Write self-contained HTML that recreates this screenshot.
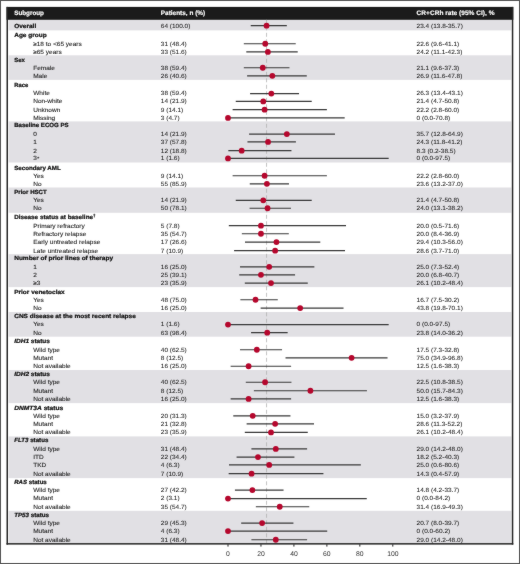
<!DOCTYPE html>
<html><head><meta charset="utf-8"><title>Forest plot</title><style>
html,body{margin:0;padding:0;background:#fff;overflow:hidden;width:520px;height:564px;}
svg{display:block;will-change:transform;}
text{font-family:"Liberation Sans",sans-serif;font-size:60.00px;text-rendering:geometricPrecision;}
.h{fill:#fff;font-weight:bold;stroke:#fff;stroke-width:1.50px;font-size:65px;}
.g{fill:#111111;font-weight:bold;stroke:#111111;stroke-width:2.20px;}
.s{fill:#1c1c1c;stroke:#1c1c1c;stroke-width:0.90px;}
.d{fill:#1c1c1c;stroke:#1c1c1c;stroke-width:0.50px;}
.ax{fill:#333;font-size:6.80px;}
</style></head>
<body><svg width="520" height="564" viewBox="0 0 520 564">
<defs><filter id="bl" x="0" y="0" width="520" height="564" filterUnits="userSpaceOnUse" color-interpolation-filters="sRGB"><feConvolveMatrix order="3" kernelMatrix="1 2 1 2 44 2 1 2 1" divisor="56" edgeMode="duplicate"/></filter></defs>
<g filter="url(#bl)">
<rect x="0" y="0" width="520" height="564" fill="#fff"/>
<rect x="8.60" y="19.80" width="502.70" height="10.60" fill="#e1e0e4"/>
<rect x="8.60" y="55.30" width="502.70" height="24.60" fill="#e1e0e4"/>
<rect x="8.60" y="121.40" width="502.70" height="41.10" fill="#e1e0e4"/>
<rect x="8.60" y="187.50" width="502.70" height="25.30" fill="#e1e0e4"/>
<rect x="8.60" y="254.10" width="502.70" height="33.00" fill="#e1e0e4"/>
<rect x="8.60" y="312.00" width="502.70" height="24.70" fill="#e1e0e4"/>
<rect x="8.60" y="370.00" width="502.70" height="33.10" fill="#e1e0e4"/>
<rect x="8.60" y="436.40" width="502.70" height="41.70" fill="#e1e0e4"/>
<rect x="8.60" y="510.80" width="502.70" height="32.70" fill="#e1e0e4"/>
<rect x="6.50" y="6.9" width="506.80" height="12.9" fill="#1b1b1b"/>
<line x1="266.56" y1="19.8" x2="266.56" y2="543.2" stroke="#ababab" stroke-width="0.70" stroke-dasharray="4 2.5"/>
<line x1="250.74" y1="25.65" x2="286.83" y2="25.65" stroke="#383838" stroke-width="1.20"/>
<line x1="243.82" y1="43.75" x2="295.73" y2="43.75" stroke="#383838" stroke-width="1.20"/>
<line x1="246.29" y1="51.95" x2="297.71" y2="51.95" stroke="#383838" stroke-width="1.20"/>
<line x1="243.82" y1="67.75" x2="289.47" y2="67.75" stroke="#383838" stroke-width="1.20"/>
<line x1="247.12" y1="75.85" x2="306.77" y2="75.85" stroke="#383838" stroke-width="1.20"/>
<line x1="250.08" y1="93.55" x2="299.03" y2="93.55" stroke="#383838" stroke-width="1.20"/>
<line x1="235.75" y1="101.45" x2="311.72" y2="101.45" stroke="#383838" stroke-width="1.20"/>
<line x1="232.61" y1="109.65" x2="326.88" y2="109.65" stroke="#383838" stroke-width="1.20"/>
<line x1="228.00" y1="117.95" x2="344.68" y2="117.95" stroke="#383838" stroke-width="1.20"/>
<line x1="249.09" y1="134.05" x2="334.96" y2="134.05" stroke="#383838" stroke-width="1.20"/>
<line x1="247.45" y1="141.95" x2="295.90" y2="141.95" stroke="#383838" stroke-width="1.20"/>
<line x1="228.33" y1="150.65" x2="291.45" y2="150.65" stroke="#383838" stroke-width="1.20"/>
<line x1="228.00" y1="158.45" x2="388.68" y2="158.45" stroke="#383838" stroke-width="1.20"/>
<line x1="232.61" y1="175.75" x2="326.88" y2="175.75" stroke="#383838" stroke-width="1.20"/>
<line x1="249.75" y1="183.85" x2="288.98" y2="183.85" stroke="#383838" stroke-width="1.20"/>
<line x1="235.75" y1="200.35" x2="311.72" y2="200.35" stroke="#383838" stroke-width="1.20"/>
<line x1="249.59" y1="208.25" x2="290.95" y2="208.25" stroke="#383838" stroke-width="1.20"/>
<line x1="228.82" y1="225.65" x2="346.00" y2="225.65" stroke="#383838" stroke-width="1.20"/>
<line x1="241.84" y1="233.75" x2="288.81" y2="233.75" stroke="#383838" stroke-width="1.20"/>
<line x1="244.97" y1="242.05" x2="320.29" y2="242.05" stroke="#383838" stroke-width="1.20"/>
<line x1="234.10" y1="250.65" x2="345.01" y2="250.65" stroke="#383838" stroke-width="1.20"/>
<line x1="240.03" y1="266.80" x2="314.36" y2="266.80" stroke="#383838" stroke-width="1.20"/>
<line x1="239.21" y1="274.85" x2="295.07" y2="274.85" stroke="#383838" stroke-width="1.20"/>
<line x1="244.81" y1="283.05" x2="307.76" y2="283.05" stroke="#383838" stroke-width="1.20"/>
<line x1="240.36" y1="299.75" x2="277.77" y2="299.75" stroke="#383838" stroke-width="1.20"/>
<line x1="260.63" y1="308.05" x2="343.52" y2="308.05" stroke="#383838" stroke-width="1.20"/>
<line x1="228.00" y1="324.55" x2="388.68" y2="324.55" stroke="#383838" stroke-width="1.20"/>
<line x1="251.07" y1="332.65" x2="287.66" y2="332.65" stroke="#383838" stroke-width="1.20"/>
<line x1="240.03" y1="349.75" x2="282.05" y2="349.75" stroke="#383838" stroke-width="1.20"/>
<line x1="285.52" y1="357.85" x2="387.53" y2="357.85" stroke="#383838" stroke-width="1.20"/>
<line x1="230.64" y1="366.25" x2="291.12" y2="366.25" stroke="#383838" stroke-width="1.20"/>
<line x1="245.80" y1="382.25" x2="291.45" y2="382.25" stroke="#383838" stroke-width="1.20"/>
<line x1="253.87" y1="390.75" x2="366.93" y2="390.75" stroke="#383838" stroke-width="1.20"/>
<line x1="230.64" y1="398.95" x2="291.12" y2="398.95" stroke="#383838" stroke-width="1.20"/>
<line x1="233.27" y1="415.85" x2="290.46" y2="415.85" stroke="#383838" stroke-width="1.20"/>
<line x1="246.62" y1="423.85" x2="314.03" y2="423.85" stroke="#383838" stroke-width="1.20"/>
<line x1="244.81" y1="432.45" x2="307.76" y2="432.45" stroke="#383838" stroke-width="1.20"/>
<line x1="251.40" y1="448.95" x2="307.10" y2="448.95" stroke="#383838" stroke-width="1.20"/>
<line x1="236.57" y1="457.05" x2="294.41" y2="457.05" stroke="#383838" stroke-width="1.20"/>
<line x1="228.99" y1="464.95" x2="360.83" y2="464.95" stroke="#383838" stroke-width="1.20"/>
<line x1="228.66" y1="473.65" x2="323.42" y2="473.65" stroke="#383838" stroke-width="1.20"/>
<line x1="234.92" y1="490.05" x2="283.54" y2="490.05" stroke="#383838" stroke-width="1.20"/>
<line x1="228.00" y1="498.55" x2="366.76" y2="498.55" stroke="#383838" stroke-width="1.20"/>
<line x1="255.85" y1="506.75" x2="309.25" y2="506.75" stroke="#383838" stroke-width="1.20"/>
<line x1="241.18" y1="523.05" x2="293.43" y2="523.05" stroke="#383838" stroke-width="1.20"/>
<line x1="228.00" y1="531.05" x2="327.21" y2="531.05" stroke="#383838" stroke-width="1.20"/>
<line x1="251.40" y1="539.75" x2="307.10" y2="539.75" stroke="#383838" stroke-width="1.20"/>
<circle cx="266.56" cy="25.65" r="2.90" fill="#b5072d"/>
<circle cx="265.24" cy="43.75" r="2.90" fill="#b5072d"/>
<circle cx="267.88" cy="51.95" r="2.90" fill="#b5072d"/>
<circle cx="262.77" cy="67.75" r="2.90" fill="#b5072d"/>
<circle cx="272.33" cy="75.85" r="2.90" fill="#b5072d"/>
<circle cx="271.34" cy="93.55" r="2.90" fill="#b5072d"/>
<circle cx="263.27" cy="101.45" r="2.90" fill="#b5072d"/>
<circle cx="264.59" cy="109.65" r="2.90" fill="#b5072d"/>
<circle cx="228.00" cy="117.95" r="2.90" fill="#b5072d"/>
<circle cx="286.83" cy="134.05" r="2.90" fill="#b5072d"/>
<circle cx="268.05" cy="141.95" r="2.90" fill="#b5072d"/>
<circle cx="241.68" cy="150.65" r="2.90" fill="#b5072d"/>
<circle cx="228.00" cy="158.45" r="2.90" fill="#b5072d"/>
<circle cx="264.59" cy="175.75" r="2.90" fill="#b5072d"/>
<circle cx="266.89" cy="183.85" r="2.90" fill="#b5072d"/>
<circle cx="263.27" cy="200.35" r="2.90" fill="#b5072d"/>
<circle cx="267.55" cy="208.25" r="2.90" fill="#b5072d"/>
<circle cx="260.96" cy="225.65" r="2.90" fill="#b5072d"/>
<circle cx="260.96" cy="233.75" r="2.90" fill="#b5072d"/>
<circle cx="276.45" cy="242.05" r="2.90" fill="#b5072d"/>
<circle cx="275.13" cy="250.65" r="2.90" fill="#b5072d"/>
<circle cx="269.20" cy="266.80" r="2.90" fill="#b5072d"/>
<circle cx="260.96" cy="274.85" r="2.90" fill="#b5072d"/>
<circle cx="271.01" cy="283.05" r="2.90" fill="#b5072d"/>
<circle cx="255.52" cy="299.75" r="2.90" fill="#b5072d"/>
<circle cx="300.18" cy="308.05" r="2.90" fill="#b5072d"/>
<circle cx="228.00" cy="324.55" r="2.90" fill="#b5072d"/>
<circle cx="267.22" cy="332.65" r="2.90" fill="#b5072d"/>
<circle cx="256.84" cy="349.75" r="2.90" fill="#b5072d"/>
<circle cx="351.60" cy="357.85" r="2.90" fill="#b5072d"/>
<circle cx="248.60" cy="366.25" r="2.90" fill="#b5072d"/>
<circle cx="265.08" cy="382.25" r="2.90" fill="#b5072d"/>
<circle cx="310.40" cy="390.75" r="2.90" fill="#b5072d"/>
<circle cx="248.60" cy="398.95" r="2.90" fill="#b5072d"/>
<circle cx="252.72" cy="415.85" r="2.90" fill="#b5072d"/>
<circle cx="275.13" cy="423.85" r="2.90" fill="#b5072d"/>
<circle cx="271.01" cy="432.45" r="2.90" fill="#b5072d"/>
<circle cx="275.79" cy="448.95" r="2.90" fill="#b5072d"/>
<circle cx="257.99" cy="457.05" r="2.90" fill="#b5072d"/>
<circle cx="269.20" cy="464.95" r="2.90" fill="#b5072d"/>
<circle cx="251.57" cy="473.65" r="2.90" fill="#b5072d"/>
<circle cx="252.39" cy="490.05" r="2.90" fill="#b5072d"/>
<circle cx="228.00" cy="498.55" r="2.90" fill="#b5072d"/>
<circle cx="279.75" cy="506.75" r="2.90" fill="#b5072d"/>
<circle cx="262.11" cy="523.05" r="2.90" fill="#b5072d"/>
<circle cx="228.00" cy="531.05" r="2.90" fill="#b5072d"/>
<circle cx="275.79" cy="539.75" r="2.90" fill="#b5072d"/>
<rect x="6.50" y="6.9" width="1.50" height="537.70" fill="#262626"/>
<rect x="511.80" y="6.9" width="1.50" height="537.70" fill="#262626"/>
<rect x="6.50" y="543.10" width="506.80" height="1.50" fill="#262626"/>
<line x1="228.00" y1="544.30" x2="228.00" y2="546.6" stroke="#222" stroke-width="1.0"/>
<text x="228.00" y="556.2" text-anchor="middle" class="ax">0</text>
<line x1="260.96" y1="544.30" x2="260.96" y2="546.6" stroke="#222" stroke-width="1.0"/>
<text x="260.96" y="556.2" text-anchor="middle" class="ax">20</text>
<line x1="293.92" y1="544.30" x2="293.92" y2="546.6" stroke="#222" stroke-width="1.0"/>
<text x="293.92" y="556.2" text-anchor="middle" class="ax">40</text>
<line x1="326.88" y1="544.30" x2="326.88" y2="546.6" stroke="#222" stroke-width="1.0"/>
<text x="326.88" y="556.2" text-anchor="middle" class="ax">60</text>
<line x1="359.84" y1="544.30" x2="359.84" y2="546.6" stroke="#222" stroke-width="1.0"/>
<text x="359.84" y="556.2" text-anchor="middle" class="ax">80</text>
<line x1="392.80" y1="544.30" x2="392.80" y2="546.6" stroke="#222" stroke-width="1.0"/>
<text x="392.80" y="556.2" text-anchor="middle" class="ax">100</text>
<text transform="matrix(0.0970,0,0,0.1000,14.20,15.25)" class="h">Subgroup</text>
<text transform="matrix(0.0990,0,0,0.1000,160.80,15.25)" class="h">Patients, n (%)</text>
<text transform="matrix(0.1010,0,0,0.1000,416.60,15.25)" class="h">CR+CRh rate (95% CI), %</text>
<text transform="matrix(0.1082,0,0,0.1000,14.20,27.50)" class="g">Overall</text>
<text transform="matrix(0.1082,0,0,0.1000,160.80,27.50)" class="d">64 (100.0)</text>
<text transform="matrix(0.1082,0,0,0.1000,416.60,27.50)" class="d">23.4 (13.8-35.7)</text>
<text transform="matrix(0.1082,0,0,0.1000,14.20,36.90)" class="g">Age group</text>
<text transform="matrix(0.1082,0,0,0.1000,33.20,45.60)" class="s">≥18 to &lt;65 years</text>
<text transform="matrix(0.1082,0,0,0.1000,160.80,45.60)" class="d">31 (48.4)</text>
<text transform="matrix(0.1082,0,0,0.1000,416.60,45.60)" class="d">22.6 (9.6-41.1)</text>
<text transform="matrix(0.1082,0,0,0.1000,33.20,53.80)" class="s">≥65 years</text>
<text transform="matrix(0.1082,0,0,0.1000,160.80,53.80)" class="d">33 (51.6)</text>
<text transform="matrix(0.1082,0,0,0.1000,416.60,53.80)" class="d">24.2 (11.1-42.3)</text>
<text transform="matrix(0.0995,0,0,0.1000,14.20,61.50)" class="g">Sex</text>
<text transform="matrix(0.1082,0,0,0.1000,33.20,69.60)" class="s">Female</text>
<text transform="matrix(0.1082,0,0,0.1000,160.80,69.60)" class="d">38 (59.4)</text>
<text transform="matrix(0.1082,0,0,0.1000,416.60,69.60)" class="d">21.1 (9.6-37.3)</text>
<text transform="matrix(0.1082,0,0,0.1000,33.20,77.70)" class="s">Male</text>
<text transform="matrix(0.1082,0,0,0.1000,160.80,77.70)" class="d">26 (40.6)</text>
<text transform="matrix(0.1082,0,0,0.1000,416.60,77.70)" class="d">26.9 (11.6-47.8)</text>
<text transform="matrix(0.0974,0,0,0.1000,14.20,86.80)" class="g">Race</text>
<text transform="matrix(0.1082,0,0,0.1000,33.20,95.40)" class="s">White</text>
<text transform="matrix(0.1082,0,0,0.1000,160.80,95.40)" class="d">38 (59.4)</text>
<text transform="matrix(0.1082,0,0,0.1000,416.60,95.40)" class="d">26.3 (13.4-43.1)</text>
<text transform="matrix(0.1082,0,0,0.1000,33.20,103.30)" class="s">Non-white</text>
<text transform="matrix(0.1082,0,0,0.1000,160.80,103.30)" class="d">14 (21.9)</text>
<text transform="matrix(0.1082,0,0,0.1000,416.60,103.30)" class="d">21.4 (4.7-50.8)</text>
<text transform="matrix(0.1082,0,0,0.1000,33.20,111.50)" class="s">Unknown</text>
<text transform="matrix(0.1082,0,0,0.1000,160.80,111.50)" class="d">9 (14.1)</text>
<text transform="matrix(0.1082,0,0,0.1000,416.60,111.50)" class="d">22.2 (2.8-60.0)</text>
<text transform="matrix(0.1082,0,0,0.1000,33.20,119.80)" class="s">Missing</text>
<text transform="matrix(0.1082,0,0,0.1000,160.80,119.80)" class="d">3 (4.7)</text>
<text transform="matrix(0.1082,0,0,0.1000,416.60,119.80)" class="d">0 (0.0-70.8)</text>
<text transform="matrix(0.1011,0,0,0.1000,14.20,127.00)" class="g">Baseline ECOG PS</text>
<text transform="matrix(0.1082,0,0,0.1000,33.20,135.90)" class="s">0</text>
<text transform="matrix(0.1082,0,0,0.1000,160.80,135.90)" class="d">14 (21.9)</text>
<text transform="matrix(0.1082,0,0,0.1000,416.60,135.90)" class="d">35.7 (12.8-64.9)</text>
<text transform="matrix(0.1082,0,0,0.1000,33.20,143.80)" class="s">1</text>
<text transform="matrix(0.1082,0,0,0.1000,160.80,143.80)" class="d">37 (57.8)</text>
<text transform="matrix(0.1082,0,0,0.1000,416.60,143.80)" class="d">24.3 (11.8-41.2)</text>
<text transform="matrix(0.1082,0,0,0.1000,33.20,152.50)" class="s">2</text>
<text transform="matrix(0.1082,0,0,0.1000,160.80,152.50)" class="d">12 (18.8)</text>
<text transform="matrix(0.1082,0,0,0.1000,416.60,152.50)" class="d">8.3 (0.2-38.5)</text>
<text transform="matrix(0.1082,0,0,0.1000,33.20,160.30)" class="s">3<tspan font-size="48" dx="3" dy="-5">*</tspan></text>
<text transform="matrix(0.1082,0,0,0.1000,160.80,160.30)" class="d">1 (1.6)</text>
<text transform="matrix(0.1082,0,0,0.1000,416.60,160.30)" class="d">0 (0.0-97.5)</text>
<text transform="matrix(0.1031,0,0,0.1000,14.20,169.70)" class="g">Secondary AML</text>
<text transform="matrix(0.1082,0,0,0.1000,33.20,177.60)" class="s">Yes</text>
<text transform="matrix(0.1082,0,0,0.1000,160.80,177.60)" class="d">9 (14.1)</text>
<text transform="matrix(0.1082,0,0,0.1000,416.60,177.60)" class="d">22.2 (2.8-60.0)</text>
<text transform="matrix(0.1082,0,0,0.1000,33.20,185.70)" class="s">No</text>
<text transform="matrix(0.1082,0,0,0.1000,160.80,185.70)" class="d">55 (85.9)</text>
<text transform="matrix(0.1082,0,0,0.1000,416.60,185.70)" class="d">23.6 (13.2-37.0)</text>
<text transform="matrix(0.1017,0,0,0.1000,14.20,193.70)" class="g">Prior HSCT</text>
<text transform="matrix(0.1082,0,0,0.1000,33.20,202.20)" class="s">Yes</text>
<text transform="matrix(0.1082,0,0,0.1000,160.80,202.20)" class="d">14 (21.9)</text>
<text transform="matrix(0.1082,0,0,0.1000,416.60,202.20)" class="d">21.4 (4.7-50.8)</text>
<text transform="matrix(0.1082,0,0,0.1000,33.20,210.10)" class="s">No</text>
<text transform="matrix(0.1082,0,0,0.1000,160.80,210.10)" class="d">50 (78.1)</text>
<text transform="matrix(0.1082,0,0,0.1000,416.60,210.10)" class="d">24.0 (13.1-38.2)</text>
<text transform="matrix(0.1055,0,0,0.1000,14.20,219.30)" class="g">Disease status at baseline<tspan font-size="42" dy="-22">†</tspan></text>
<text transform="matrix(0.1082,0,0,0.1000,33.20,227.50)" class="s">Primary refractory</text>
<text transform="matrix(0.1082,0,0,0.1000,160.80,227.50)" class="d">5 (7.8)</text>
<text transform="matrix(0.1082,0,0,0.1000,416.60,227.50)" class="d">20.0 (0.5-71.6)</text>
<text transform="matrix(0.1082,0,0,0.1000,33.20,235.60)" class="s">Refractory relapse</text>
<text transform="matrix(0.1082,0,0,0.1000,160.80,235.60)" class="d">35 (54.7)</text>
<text transform="matrix(0.1082,0,0,0.1000,416.60,235.60)" class="d">20.0 (8.4-36.9)</text>
<text transform="matrix(0.1082,0,0,0.1000,33.20,243.90)" class="s">Early untreated relapse</text>
<text transform="matrix(0.1082,0,0,0.1000,160.80,243.90)" class="d">17 (26.6)</text>
<text transform="matrix(0.1082,0,0,0.1000,416.60,243.90)" class="d">29.4 (10.3-56.0)</text>
<text transform="matrix(0.1082,0,0,0.1000,33.20,252.50)" class="s">Late untreated relapse</text>
<text transform="matrix(0.1082,0,0,0.1000,160.80,252.50)" class="d">7 (10.9)</text>
<text transform="matrix(0.1082,0,0,0.1000,416.60,252.50)" class="d">28.6 (3.7-71.0)</text>
<text transform="matrix(0.1082,0,0,0.1000,14.20,260.20)" class="g">Number of prior lines of therapy</text>
<text transform="matrix(0.1082,0,0,0.1000,33.20,268.65)" class="s">1</text>
<text transform="matrix(0.1082,0,0,0.1000,160.80,268.65)" class="d">16 (25.0)</text>
<text transform="matrix(0.1082,0,0,0.1000,416.60,268.65)" class="d">25.0 (7.3-52.4)</text>
<text transform="matrix(0.1082,0,0,0.1000,33.20,276.70)" class="s">2</text>
<text transform="matrix(0.1082,0,0,0.1000,160.80,276.70)" class="d">25 (39.1)</text>
<text transform="matrix(0.1082,0,0,0.1000,416.60,276.70)" class="d">20.0 (6.8-40.7)</text>
<text transform="matrix(0.1082,0,0,0.1000,33.20,284.90)" class="s">≥3</text>
<text transform="matrix(0.1082,0,0,0.1000,160.80,284.90)" class="d">23 (35.9)</text>
<text transform="matrix(0.1082,0,0,0.1000,416.60,284.90)" class="d">26.1 (10.2-48.4)</text>
<text transform="matrix(0.1082,0,0,0.1000,14.20,293.50)" class="g">Prior venetoclax</text>
<text transform="matrix(0.1082,0,0,0.1000,33.20,301.60)" class="s">Yes</text>
<text transform="matrix(0.1082,0,0,0.1000,160.80,301.60)" class="d">48 (75.0)</text>
<text transform="matrix(0.1082,0,0,0.1000,416.60,301.60)" class="d">16.7 (7.5-30.2)</text>
<text transform="matrix(0.1082,0,0,0.1000,33.20,309.90)" class="s">No</text>
<text transform="matrix(0.1082,0,0,0.1000,160.80,309.90)" class="d">16 (25.0)</text>
<text transform="matrix(0.1082,0,0,0.1000,416.60,309.90)" class="d">43.8 (19.8-70.1)</text>
<text transform="matrix(0.1082,0,0,0.1000,14.20,318.20)" class="g">CNS disease at the most recent relapse</text>
<text transform="matrix(0.1082,0,0,0.1000,33.20,326.40)" class="s">Yes</text>
<text transform="matrix(0.1082,0,0,0.1000,160.80,326.40)" class="d">1 (1.6)</text>
<text transform="matrix(0.1082,0,0,0.1000,416.60,326.40)" class="d">0 (0.0-97.5)</text>
<text transform="matrix(0.1082,0,0,0.1000,33.20,334.50)" class="s">No</text>
<text transform="matrix(0.1082,0,0,0.1000,160.80,334.50)" class="d">63 (98.4)</text>
<text transform="matrix(0.1082,0,0,0.1000,416.60,334.50)" class="d">23.8 (14.0-36.2)</text>
<text transform="matrix(0.1082,0,0,0.1000,14.20,342.90)" class="g"><tspan font-style="italic">IDH1</tspan> status</text>
<text transform="matrix(0.1082,0,0,0.1000,33.20,351.60)" class="s">Wild type</text>
<text transform="matrix(0.1082,0,0,0.1000,160.80,351.60)" class="d">40 (62.5)</text>
<text transform="matrix(0.1082,0,0,0.1000,416.60,351.60)" class="d">17.5 (7.3-32.8)</text>
<text transform="matrix(0.1082,0,0,0.1000,33.20,359.70)" class="s">Mutant</text>
<text transform="matrix(0.1082,0,0,0.1000,160.80,359.70)" class="d">8 (12.5)</text>
<text transform="matrix(0.1082,0,0,0.1000,416.60,359.70)" class="d">75.0 (34.9-96.8)</text>
<text transform="matrix(0.1082,0,0,0.1000,33.20,368.10)" class="s">Not available</text>
<text transform="matrix(0.1082,0,0,0.1000,160.80,368.10)" class="d">16 (25.0)</text>
<text transform="matrix(0.1082,0,0,0.1000,416.60,368.10)" class="d">12.5 (1.6-38.3)</text>
<text transform="matrix(0.1082,0,0,0.1000,14.20,376.00)" class="g"><tspan font-style="italic">IDH2</tspan> status</text>
<text transform="matrix(0.1082,0,0,0.1000,33.20,384.10)" class="s">Wild type</text>
<text transform="matrix(0.1082,0,0,0.1000,160.80,384.10)" class="d">40 (62.5)</text>
<text transform="matrix(0.1082,0,0,0.1000,416.60,384.10)" class="d">22.5 (10.8-38.5)</text>
<text transform="matrix(0.1082,0,0,0.1000,33.20,392.60)" class="s">Mutant</text>
<text transform="matrix(0.1082,0,0,0.1000,160.80,392.60)" class="d">8 (12.5)</text>
<text transform="matrix(0.1082,0,0,0.1000,416.60,392.60)" class="d">50.0 (15.7-84.3)</text>
<text transform="matrix(0.1082,0,0,0.1000,33.20,400.80)" class="s">Not available</text>
<text transform="matrix(0.1082,0,0,0.1000,160.80,400.80)" class="d">16 (25.0)</text>
<text transform="matrix(0.1082,0,0,0.1000,416.60,400.80)" class="d">12.5 (1.6-38.3)</text>
<text transform="matrix(0.1104,0,0,0.1000,14.20,409.50)" class="g"><tspan font-style="italic">DNMT3A</tspan> status</text>
<text transform="matrix(0.1082,0,0,0.1000,33.20,417.70)" class="s">Wild type</text>
<text transform="matrix(0.1082,0,0,0.1000,160.80,417.70)" class="d">20 (31.3)</text>
<text transform="matrix(0.1082,0,0,0.1000,416.60,417.70)" class="d">15.0 (3.2-37.9)</text>
<text transform="matrix(0.1082,0,0,0.1000,33.20,425.70)" class="s">Mutant</text>
<text transform="matrix(0.1082,0,0,0.1000,160.80,425.70)" class="d">21 (32.8)</text>
<text transform="matrix(0.1082,0,0,0.1000,416.60,425.70)" class="d">28.6 (11.3-52.2)</text>
<text transform="matrix(0.1082,0,0,0.1000,33.20,434.30)" class="s">Not available</text>
<text transform="matrix(0.1082,0,0,0.1000,160.80,434.30)" class="d">23 (35.9)</text>
<text transform="matrix(0.1082,0,0,0.1000,416.60,434.30)" class="d">26.1 (10.2-48.4)</text>
<text transform="matrix(0.1028,0,0,0.1000,14.20,442.30)" class="g"><tspan font-style="italic">FLT3</tspan> status</text>
<text transform="matrix(0.1082,0,0,0.1000,33.20,450.80)" class="s">Wild type</text>
<text transform="matrix(0.1082,0,0,0.1000,160.80,450.80)" class="d">31 (48.4)</text>
<text transform="matrix(0.1082,0,0,0.1000,416.60,450.80)" class="d">29.0 (14.2-48.0)</text>
<text transform="matrix(0.1082,0,0,0.1000,33.20,458.90)" class="s">ITD</text>
<text transform="matrix(0.1082,0,0,0.1000,160.80,458.90)" class="d">22 (34.4)</text>
<text transform="matrix(0.1082,0,0,0.1000,416.60,458.90)" class="d">18.2 (5.2-40.3)</text>
<text transform="matrix(0.1082,0,0,0.1000,33.20,466.80)" class="s">TKD</text>
<text transform="matrix(0.1082,0,0,0.1000,160.80,466.80)" class="d">4 (6.3)</text>
<text transform="matrix(0.1082,0,0,0.1000,416.60,466.80)" class="d">25.0 (0.6-80.6)</text>
<text transform="matrix(0.1082,0,0,0.1000,33.20,475.50)" class="s">Not available</text>
<text transform="matrix(0.1082,0,0,0.1000,160.80,475.50)" class="d">7 (10.9)</text>
<text transform="matrix(0.1082,0,0,0.1000,416.60,475.50)" class="d">14.3 (0.4-57.9)</text>
<text transform="matrix(0.1017,0,0,0.1000,14.20,484.20)" class="g"><tspan font-style="italic">RAS</tspan> status</text>
<text transform="matrix(0.1082,0,0,0.1000,33.20,491.90)" class="s">Wild type</text>
<text transform="matrix(0.1082,0,0,0.1000,160.80,491.90)" class="d">27 (42.2)</text>
<text transform="matrix(0.1082,0,0,0.1000,416.60,491.90)" class="d">14.8 (4.2-33.7)</text>
<text transform="matrix(0.1082,0,0,0.1000,33.20,500.40)" class="s">Mutant</text>
<text transform="matrix(0.1082,0,0,0.1000,160.80,500.40)" class="d">2 (3.1)</text>
<text transform="matrix(0.1082,0,0,0.1000,416.60,500.40)" class="d">0 (0.0-84.2)</text>
<text transform="matrix(0.1082,0,0,0.1000,33.20,508.60)" class="s">Not available</text>
<text transform="matrix(0.1082,0,0,0.1000,160.80,508.60)" class="d">35 (54.7)</text>
<text transform="matrix(0.1082,0,0,0.1000,416.60,508.60)" class="d">31.4 (16.9-49.3)</text>
<text transform="matrix(0.1033,0,0,0.1000,14.20,516.50)" class="g"><tspan font-style="italic">TP53</tspan> status</text>
<text transform="matrix(0.1082,0,0,0.1000,33.20,524.90)" class="s">Wild type</text>
<text transform="matrix(0.1082,0,0,0.1000,160.80,524.90)" class="d">29 (45.3)</text>
<text transform="matrix(0.1082,0,0,0.1000,416.60,524.90)" class="d">20.7 (8.0-39.7)</text>
<text transform="matrix(0.1082,0,0,0.1000,33.20,532.90)" class="s">Mutant</text>
<text transform="matrix(0.1082,0,0,0.1000,160.80,532.90)" class="d">4 (6.3)</text>
<text transform="matrix(0.1082,0,0,0.1000,416.60,532.90)" class="d">0 (0.0-60.2)</text>
<text transform="matrix(0.1082,0,0,0.1000,33.20,541.60)" class="s">Not available</text>
<text transform="matrix(0.1082,0,0,0.1000,160.80,541.60)" class="d">31 (48.4)</text>
<text transform="matrix(0.1082,0,0,0.1000,416.60,541.60)" class="d">29.0 (14.2-48.0)</text>
<rect x="0.5" y="0.5" width="519" height="563" fill="none" stroke="#555" stroke-width="1"/>
</g>
</svg></body></html>
